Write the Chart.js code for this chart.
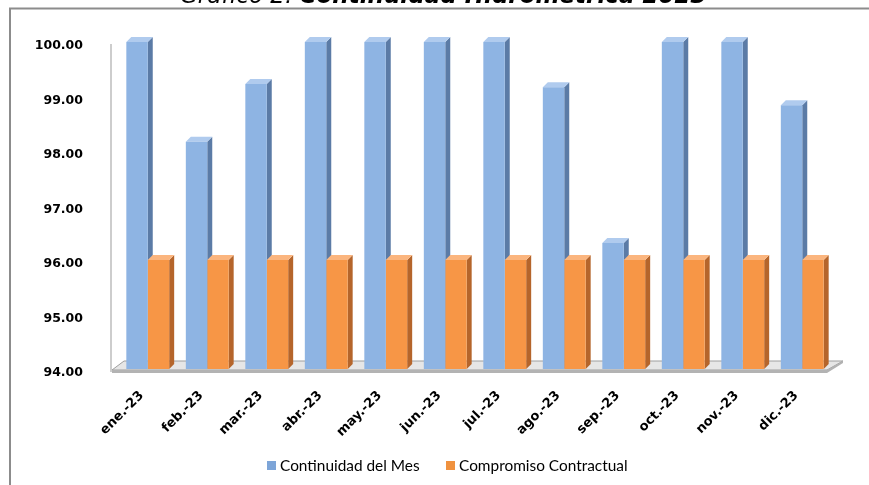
<!DOCTYPE html>
<html>
<head>
<meta charset="utf-8">
<script src="https://cdn.jsdelivr.net/npm/chart.js@4.4.0/dist/chart.umd.min.js"></script>
<style>
  html, body { margin: 0; padding: 0; background: #ffffff; }
  #wrap { width: 869px; height: 485px; }
</style>
</head>
<body>
<div id="wrap"><canvas id="c" width="869" height="485"></canvas></div>
<script>
const categories = ["ene.-23", "feb.-23", "mar.-23", "abr.-23", "may.-23", "jun.-23",
                    "jul.-23", "ago.-23", "sep.-23", "oct.-23", "nov.-23", "dic.-23"];
const continuidadMes = [100, 98.17, 99.23, 100, 100, 100, 100, 99.17, 96.31, 100, 100, 98.84];
const compromisoContractual = [96, 96, 96, 96, 96, 96, 96, 96, 96, 96, 96, 96];
const seriesNames = ["Continuidad del Mes", "Compromiso Contractual"];
const yTicks = [94, 95, 96, 97, 98, 99, 100];
const titlePlain = "Gráfico 2. ";
const titleBold = "Continuidad Hidrométrica 2023";

const DEPTH = 5;
const faceColors = [
  { front: "#8EB4E3", top: "#B0CBEE", side: "#5B7BA6", legend: "#7DA5D8" },
  { front: "#F79646", top: "#FBB57E", side: "#B5652B", legend: "#F0923F" }
];

const threeD = {
  id: "threeD",
  beforeDraw(chart) {
    const ctx = chart.ctx;
    ctx.save();
    ctx.strokeStyle = "#8C8C8C";
    ctx.lineWidth = 2;
    ctx.beginPath();
    ctx.moveTo(10, 485);
    ctx.lineTo(10, 8.5);
    ctx.lineTo(869, 8.5);
    ctx.stroke();
    ctx.fillStyle = "#000000";
    ctx.textBaseline = "alphabetic";
    let size = 20;
    ctx.font = "italic " + size + "px 'DejaVu Sans'";
    let w1 = ctx.measureText(titlePlain).width;
    ctx.font = "italic bold " + size + "px 'DejaVu Sans'";
    let w2 = ctx.measureText(titleBold).width;
    size = size * 527 / (w1 + w2);
    ctx.font = "italic " + size + "px 'DejaVu Sans'";
    w1 = ctx.measureText(titlePlain).width;
    ctx.fillText(titlePlain, 180, 3);
    ctx.font = "italic bold " + size + "px 'DejaVu Sans'";
    ctx.fillText(titleBold, 180 + w1, 3);
    ctx.restore();
  },
  beforeDatasetsDraw(chart) {
    const ctx = chart.ctx;
    const area = chart.chartArea;
    const yScale = chart.scales.y;
    const base = yScale.getPixelForValue(94);
    ctx.save();
    ctx.strokeStyle = "#BDBDBD";
    ctx.lineWidth = 1.5;
    ctx.beginPath();
    ctx.moveTo(area.left - 7, yScale.getPixelForValue(100) + 2);
    ctx.lineTo(area.left - 7, base + 3);
    ctx.stroke();
    const fl = area.left - 6, fr = area.right - 5;
    ctx.fillStyle = "#E6E6E6";
    ctx.strokeStyle = "#9E9E9E";
    ctx.lineWidth = 1;
    ctx.beginPath();
    ctx.moveTo(fl, base + 1);
    ctx.lineTo(fl + 12, base - 8);
    ctx.lineTo(fr + 16, base - 8);
    ctx.lineTo(fr, base + 1);
    ctx.closePath();
    ctx.fill();
    ctx.stroke();
    ctx.fillStyle = "#B3B3B3";
    ctx.beginPath();
    ctx.moveTo(fl, base + 1);
    ctx.lineTo(fr, base + 1);
    ctx.lineTo(fr + 16, base - 8);
    ctx.lineTo(fr + 16, base - 6);
    ctx.lineTo(fr, base + 4);
    ctx.lineTo(fl, base + 4);
    ctx.closePath();
    ctx.fill();
    chart.data.datasets.forEach((ds, di) => {
      const meta = chart.getDatasetMeta(di);
      const col = faceColors[di];
      meta.data.forEach(bar => {
        const p = bar.getProps(["x", "y", "base", "width"], true);
        const left = p.x - p.width / 2, right = p.x + p.width / 2;
        const top = p.y, bot = Math.min(p.base, base);
        ctx.fillStyle = col.side;
        ctx.beginPath();
        ctx.moveTo(right, top);
        ctx.lineTo(right + DEPTH, top - DEPTH);
        ctx.lineTo(right + DEPTH, bot - DEPTH);
        ctx.lineTo(right, bot);
        ctx.closePath();
        ctx.fill();
        ctx.fillStyle = col.top;
        ctx.beginPath();
        ctx.moveTo(left, top);
        ctx.lineTo(left + DEPTH, top - DEPTH);
        ctx.lineTo(right + DEPTH, top - DEPTH);
        ctx.lineTo(right, top);
        ctx.closePath();
        ctx.fill();
      });
    });
    ctx.restore();
  },
  afterDraw(chart) {
    const ctx = chart.ctx;
    ctx.save();
    ctx.font = "15.4px Lato";
    ctx.textBaseline = "middle";
    const boxX = [267, 446];
    chart.data.datasets.forEach((ds, i) => {
      ctx.fillStyle = faceColors[i].legend;
      ctx.fillRect(boxX[i], 461, 9, 9);
      ctx.fillStyle = "#000000";
      ctx.fillText(ds.label, boxX[i] + 13, 466);
    });
    ctx.restore();
  }
};

new Chart(document.getElementById("c"), {
  type: "bar",
  data: {
    labels: categories,
    datasets: [
      { label: seriesNames[0], data: continuidadMes, backgroundColor: faceColors[0].front, borderWidth: 0 },
      { label: seriesNames[1], data: compromisoContractual, backgroundColor: faceColors[1].front, borderWidth: 0 }
    ]
  },
  options: {
    responsive: false,
    animation: false,
    layout: { padding: { left: 0, right: 37, top: 42, bottom: 40 } },
    datasets: { bar: { categoryPercentage: 0.72, barPercentage: 1.0 } },
    scales: {
      x: {
        offset: true,
        grid: { display: false },
        border: { display: false },
        ticks: {
          maxRotation: 45, minRotation: 45, padding: 11,
          labelOffset: -6,
          color: "#000000",
          font: { family: "'DejaVu Sans'", size: 13, weight: "bold" }
        },
        afterFit(scale) { scale.height = 76; }
      },
      y: {
        min: 94, max: 100,
        afterBuildTicks(scale) { scale.ticks = yTicks.map(v => ({ value: v })); },
        grid: { display: false },
        border: { display: false },
        ticks: {
          color: "#000000",
          padding: 27,
          labelOffset: 4,
          font: { family: "'DejaVu Sans'", size: 12.5, weight: "bold" },
          callback: v => Number(v).toFixed(2)
        },
        afterFit(scale) { scale.width = 118; }
      }
    },
    plugins: {
      legend: { display: false },
      tooltip: { enabled: false },
      title: { display: false }
    }
  },
  plugins: [threeD]
});
</script>
</body>
</html>
